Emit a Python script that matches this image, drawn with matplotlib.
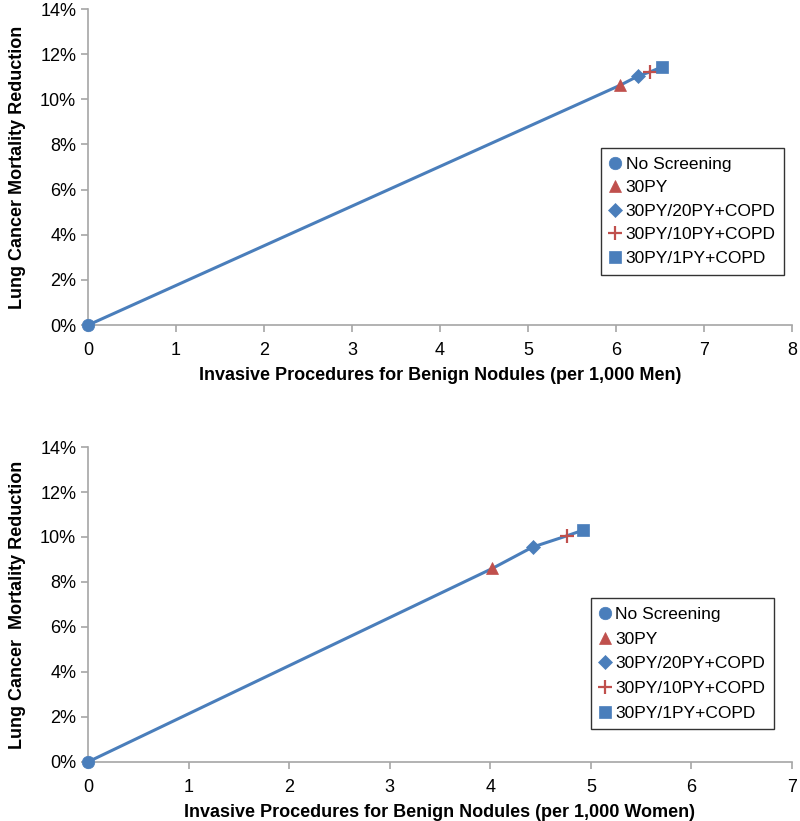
import matplotlib
matplotlib.use("Agg")
import matplotlib.pyplot as plt
from matplotlib.ticker import FuncFormatter

plt.rcParams['font.family'] = ['Liberation Sans', 'DejaVu Sans']

labels = ['No Screening', '30PY', '30PY/20PY+COPD', '30PY/10PY+COPD', '30PY/1PY+COPD']
markers = ['o', '^', 'D', '+', 's']
colors = ['#4A7EBB', '#C0504D', '#4A7EBB', '#C0504D', '#4A7EBB']
sizes = [9, 9, 7, 10, 9]

men_x = [0, 6.05, 6.25, 6.39, 6.52]
men_y = [0, 10.63, 11.03, 11.22, 11.43]

women_x = [0, 4.02, 4.42, 4.76, 4.92]
women_y = [0, 8.6, 9.55, 10.05, 10.3]

LINE = '#4A7EBB'
GRAY = '#A6A6A6'


def draw(ax, xs, ys, xmax, xlabel, ylabel, legend_anchor, spacing):
    ax.plot(xs, ys, color=LINE, lw=2.2, zorder=2)
    for x, y, lab, m, c, s in zip(xs, ys, labels, markers, colors, sizes):
        ax.plot([x], [y], linestyle='none', marker=m, color=c, markersize=s,
                markeredgewidth=1.6 if m == '+' else 0.5, label=lab, zorder=3,
                clip_on=False)
    ax.set_xlim(0, xmax)
    ax.set_ylim(0, 14)
    ax.set_xticks(range(0, xmax + 1))
    ax.set_yticks(range(0, 15, 2))
    ax.yaxis.set_major_formatter(FuncFormatter(lambda v, p: f'{int(v)}%'))
    for s in ['top', 'right']:
        ax.spines[s].set_visible(False)
    for s in ['left', 'bottom']:
        ax.spines[s].set_color(GRAY)
        ax.spines[s].set_linewidth(1.2)
    ax.tick_params(axis='both', colors=GRAY, labelcolor='black', labelsize=13,
                   length=5, width=1.2)
    ax.tick_params(axis='x', pad=7)
    ax.set_xlabel(xlabel, fontsize=13, fontweight='bold', labelpad=6)
    ax.set_ylabel(ylabel, fontsize=13, fontweight='bold', labelpad=10)
    leg = ax.legend(loc='upper left', bbox_to_anchor=legend_anchor, fontsize=12.5,
                    frameon=True, fancybox=False, edgecolor='black',
                    handlelength=0.6, handletextpad=0.3, labelspacing=spacing,
                    borderpad=0.5, borderaxespad=0, numpoints=1)
    leg.get_frame().set_linewidth(1.0)


fig = plt.figure(figsize=(8, 8.21), dpi=100)
ax1 = fig.add_axes([0.11, 0.604, 0.88, 0.385])
ax2 = fig.add_axes([0.11, 0.072, 0.88, 0.3835])

draw(ax1, men_x, men_y, 8, 'Invasive Procedures for Benign Nodules (per 1,000 Men)',
     'Lung Cancer Mortality Reduction', (0.729, 0.56), 0.48)
draw(ax2, women_x, women_y, 7, 'Invasive Procedures for Benign Nodules (per 1,000 Women)',
     'Lung Cancer  Mortality Reduction', (0.714, 0.52), 0.55)

fig.savefig('out.png', dpi=100)
